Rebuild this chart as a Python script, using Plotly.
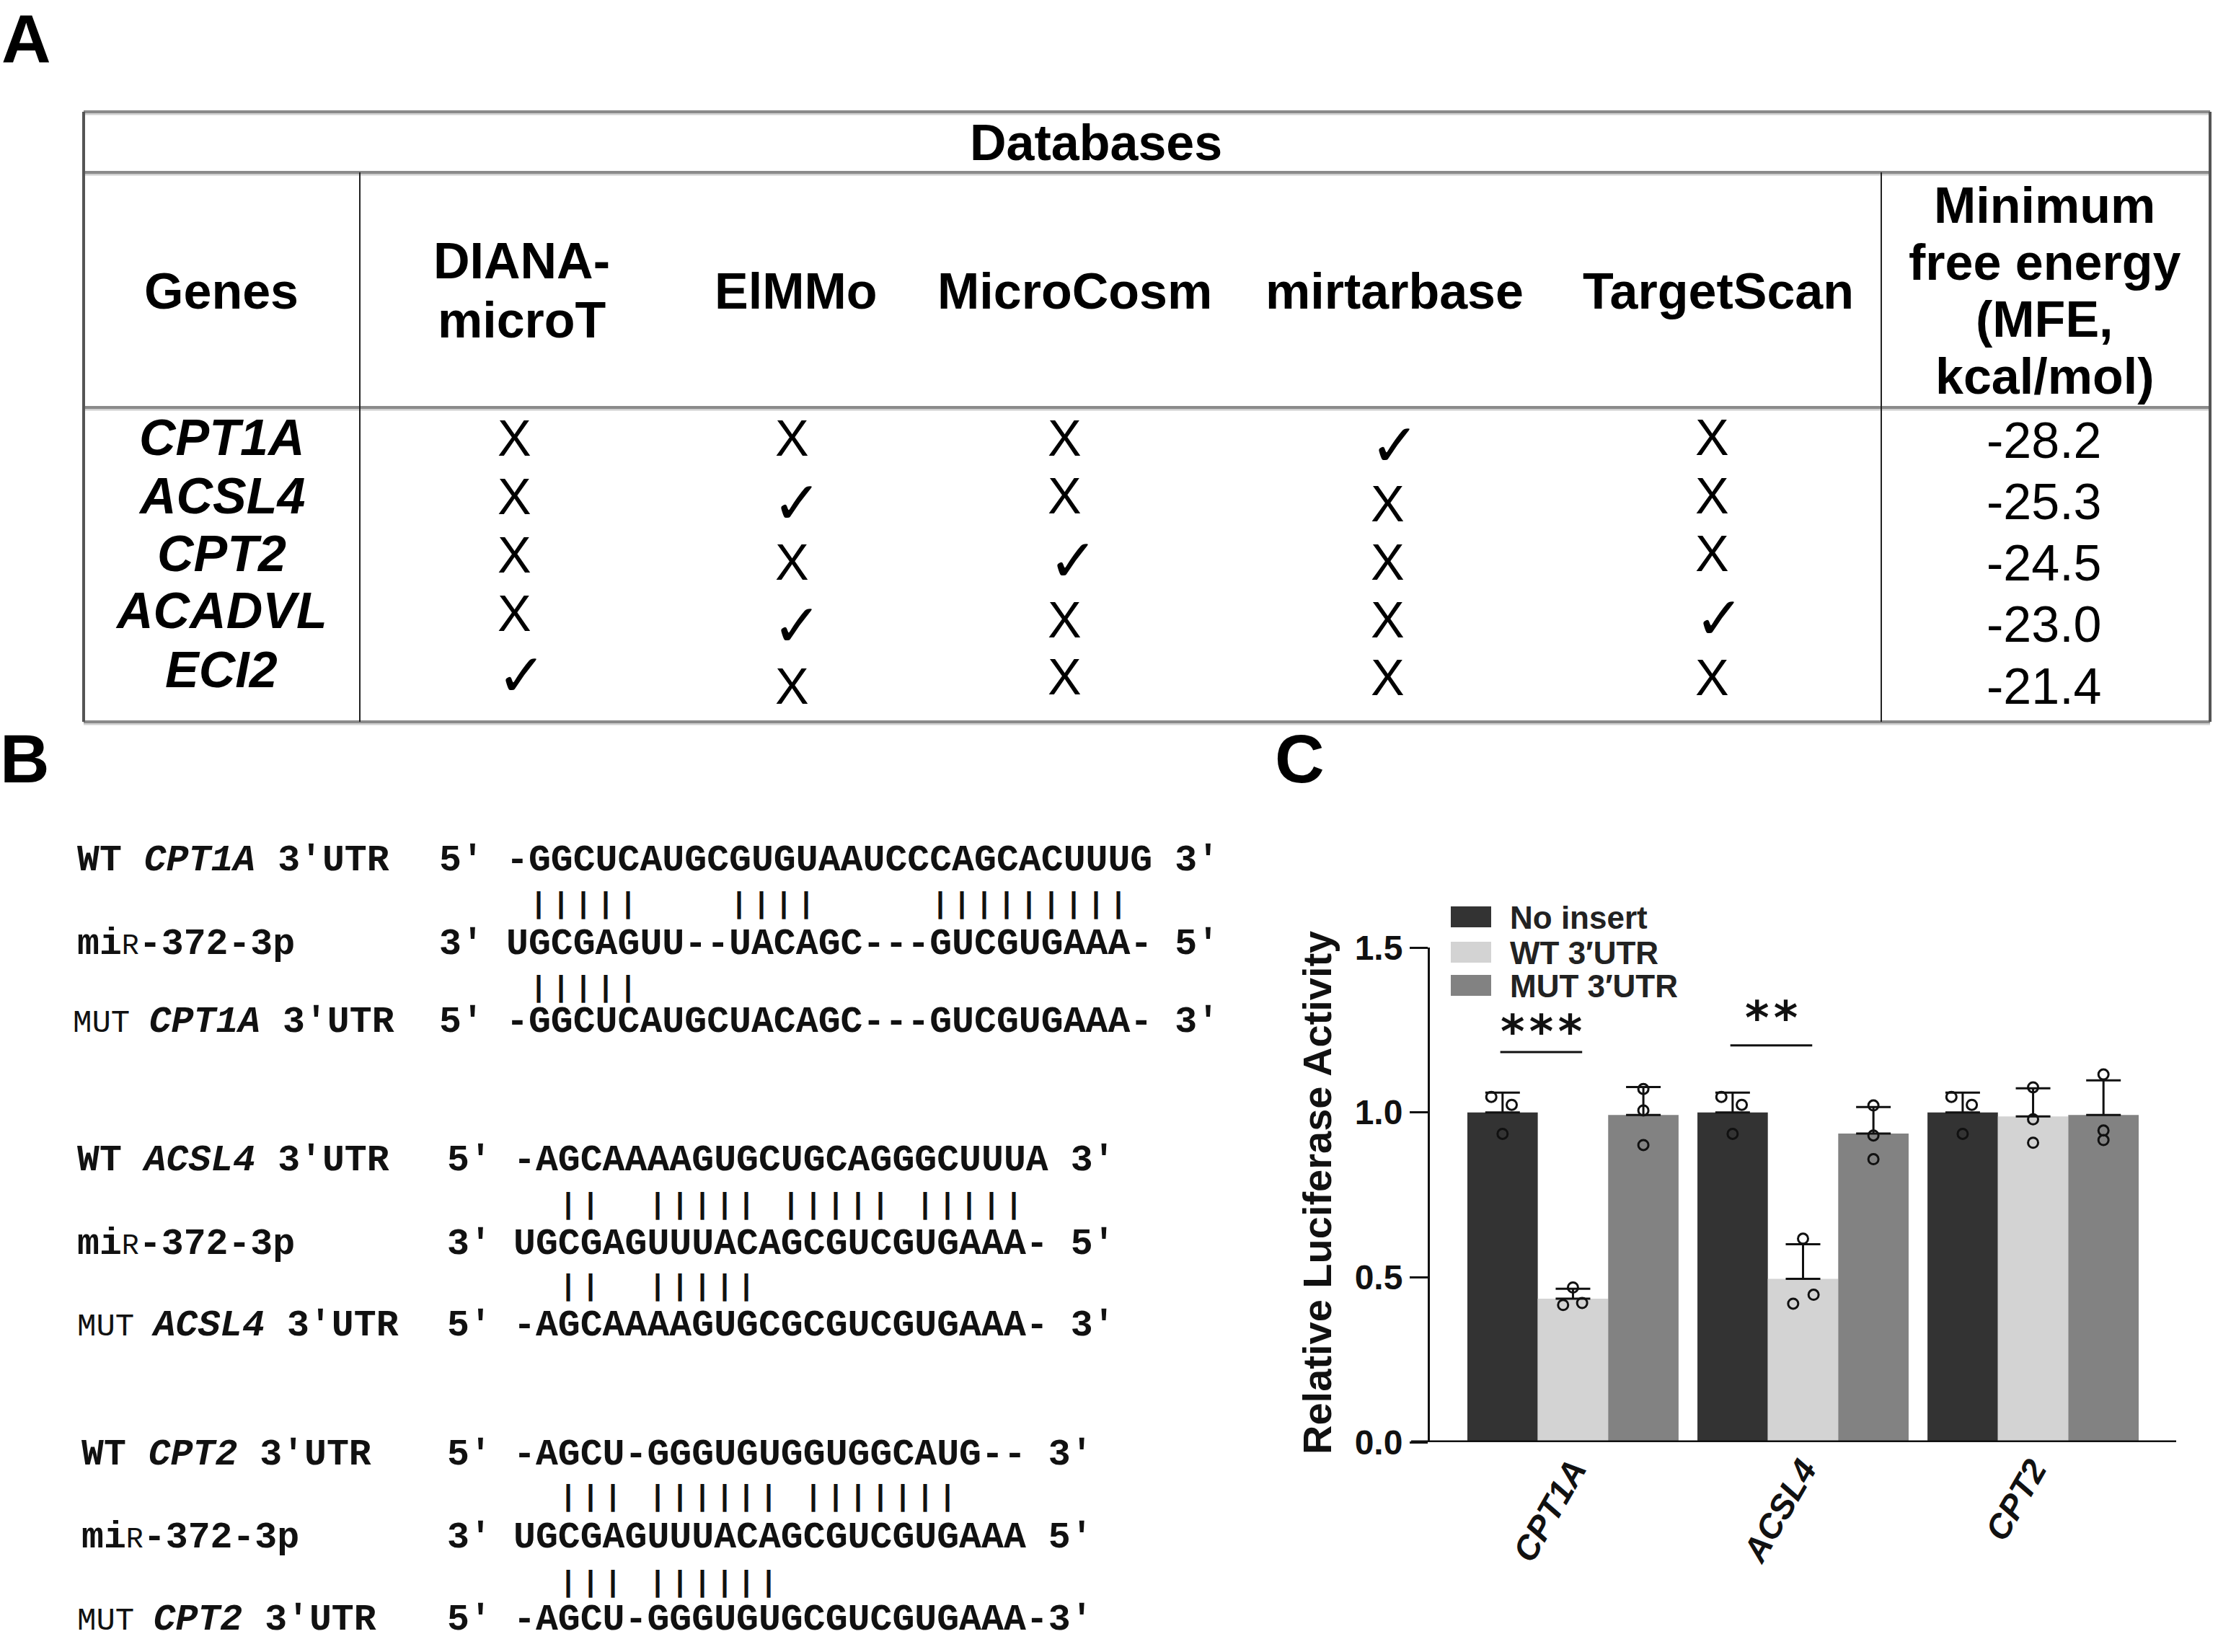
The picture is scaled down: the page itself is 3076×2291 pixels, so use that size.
import plotly.graph_objects as go

W, H = 3076, 2291

# ------------------------------------------------------------------
# DATA
# ------------------------------------------------------------------
# Panel A : prediction table
table_genes = ["CPT1A", "ACSL4", "CPT2", "ACADVL", "ECI2"]
table_databases = ["DIANA-<br>microT", "ElMMo", "MicroCosm", "mirtarbase", "TargetScan"]
predicted = [            # 1 = predicted (check mark), 0 = not predicted (X)
    [0, 0, 0, 1, 0],
    [0, 1, 0, 0, 0],
    [0, 0, 1, 0, 0],
    [0, 1, 0, 0, 1],
    [1, 0, 0, 0, 0],
]
mfe_values = [-28.2, -25.3, -24.5, -23.0, -21.4]
mfe_header = ["Minimum", "free energy", "(MFE,", "kcal/mol)"]

# Panel B : sequence alignments (label, prefix, sequence) and pairing lines
align_labels = [
    "<b>WT <i>CPT1A</i> 3′UTR</b>",
    "<b>mi</b><span style='font-size:40px'>R</span><b>-372-3p</b>",
    "<span style='font-size:44px'>MUT </span><b><i>CPT1A</i> 3′UTR</b>",
    "<b>WT <i>ACSL4</i> 3′UTR</b>",
    "<b>mi</b><span style='font-size:40px'>R</span><b>-372-3p</b>",
    "<span style='font-size:44px'>MUT </span><b><i>ACSL4</i> 3′UTR</b>",
    "<b>WT <i>CPT2</i> 3′UTR</b>",
    "<b>mi</b><span style='font-size:40px'>R</span><b>-372-3p</b>",
    "<span style='font-size:44px'>MUT </span><b><i>CPT2</i> 3′UTR</b>",
]
align_prefix = ["5'", "3′", "5'", "5'", "3′", "5'", "5'", "3′", "5'"]
align_seqs = [
    "-GGCUCAUGCGUGUAAUCCCAGCACUUUG 3'",
    "UGCGAGUU--UACAGC---GUCGUGAAA- 5'",
    "-GGCUCAUGCUACAGC---GUCGUGAAA- 3'",
    "-AGCAAAAGUGCUGCAGGGCUUUA 3'",
    "UGCGAGUUUACAGCGUCGUGAAA- 5'",
    "-AGCAAAAGUGCGCGUCGUGAAA- 3'",
    "-AGCU-GGGUGUGGUGGCAUG-- 3'",
    "UGCGAGUUUACAGCGUCGUGAAA 5'",
    "-AGCU-GGGUGUGCGUCGUGAAA-3'",
]
pair_lines = [
    " |||||    ||||     |||||||||",
    " |||||",
    "  ||  ||||| ||||| |||||",
    "  ||  |||||",
    "  ||| |||||| |||||||",
    "  ||| ||||||",
]

# Panel C : luciferase assay
bar_genes = ["CPT1A", "ACSL4", "CPT2"]
group_names = ["No insert", "WT 3′UTR", "MUT 3′UTR"]
no_insert_mean = [1.0, 1.0, 1.0]
wt_mean = [0.435, 0.495, 0.988]
mut_mean = [0.992, 0.936, 0.992]
no_insert_sd = [0.06, 0.06, 0.06]
wt_sd = [0.03, 0.105, 0.085]
mut_sd = [0.085, 0.08, 0.105]
no_insert_points = [[1.047, 1.023, 0.935], [1.047, 1.023, 0.935], [1.047, 1.023, 0.935]]
wt_points = [[0.416, 0.422, 0.469], [0.617, 0.420, 0.447], [1.076, 0.979, 0.908]]
mut_points = [[1.071, 1.006, 0.901], [1.021, 0.930, 0.858], [1.115, 0.945, 0.916]]
significance = [("***", 1.183, 1.245), ("**", 1.203, 1.285)]   # CPT1A, ACSL4 (No insert vs WT)

# ------------------------------------------------------------------
# STYLE / LAYOUT (pixel positions of the composed figure)
# ------------------------------------------------------------------
SANS = "Liberation Sans"
MONO = "Liberation Mono"
bar_colors = ["#333333", "#d3d3d3", "#828282"]
jitter = [  # horizontal jitter of replicate dots, in bar widths
    [[-0.16, 0.13, 0.0], [-0.16, 0.13, 0.0], [-0.16, 0.13, 0.0]],
    [[-0.14, 0.13, 0.0], [0.0, -0.14, 0.15], [0.0, 0.0, 0.0]],
    [[0.0, 0.0, 0.0], [0.0, 0.0, 0.0], [0.0, 0.0, 0.0]],
]

def px(x):
    return x / W

def py(y):
    return 1 - y / H

annotations = []
shapes = []

def ann(text, x, y, size, family=SANS, xanchor="center", yanchor="middle",
        color="black", angle=0):
    annotations.append(dict(
        text=text, x=px(x), y=py(y), xref="paper", yref="paper",
        showarrow=False, xanchor=xanchor, yanchor=yanchor, borderpad=0,
        font=dict(family=family, size=size, color=color), textangle=angle))

def hline(x0, x1, y, width, color):
    shapes.append(dict(type="line", xref="paper", yref="paper",
                       x0=px(x0), x1=px(x1), y0=py(y), y1=py(y),
                       line=dict(color=color, width=width)))

def vline(x, y0, y1, width, color):
    shapes.append(dict(type="line", xref="paper", yref="paper",
                       x0=px(x), x1=px(x), y0=py(y0), y1=py(y1),
                       line=dict(color=color, width=width)))

# ---------------- Panel labels ----------------
ann("<b>A</b>", 36, 54, 95)
ann("<b>B</b>", 34, 1052, 95)
ann("<b>C</b>", 1802, 1052, 95)

# ---------------- Panel A : table ----------------
T_L, T_R = 116, 3065
T_TOP, T_DB, T_HEAD, T_BOT = 155, 239, 565, 1001
DIV_GENES, DIV_MFE = 499, 2609
for yy in (T_TOP, T_DB, T_HEAD, T_BOT):
    hline(T_L, T_R, yy + 3, 3, "#d0d0d0")
    hline(T_L, T_R, yy, 4, "#8a8a8a")
vline(T_L, T_TOP, T_BOT, 4, "#555555")
vline(T_R, T_TOP, T_BOT, 4, "#555555")
vline(DIV_GENES, T_DB, T_BOT, 2, "#222222")
vline(DIV_MFE, T_DB, T_BOT, 2, "#222222")

ann("<b>Databases</b>", 1520, 198, 70)
ann("<b>Genes</b>", 307, 404, 70)
head_x = [723, 1104, 1490, 1934, 2383]
for j, name in enumerate(table_databases):
    parts = name.split("<br>")
    if len(parts) == 2:
        ann("<b>%s</b>" % parts[0], head_x[j], 362, 70)
        ann("<b>%s</b>" % parts[1], head_x[j], 444, 70)
    else:
        ann("<b>%s</b>" % name, head_x[j], 404, 70)
mfe_head_y = [285, 364, 443, 522]
for line, yy in zip(mfe_header, mfe_head_y):
    ann("<b>%s</b>" % line, 2835, yy, 70)

gene_y = [607, 688, 768, 847, 929]
for g, yy in zip(table_genes, gene_y):
    ann("<b><i>%s</i></b>" % g, 307, yy, 70)

x_pos = [713, 1098, 1476, 1925, 2374]
chk_pos = [723, 1105, 1488, 1935, 2384]
cell_y = [
    [608, 689, 770, 851, 936],
    [608, 697, 780, 868, 952],
    [608, 688, 777, 860, 939],
    [617, 699, 780, 860, 940],
    [607, 688, 768, 857, 940],
]
for i in range(len(table_genes)):
    for j in range(len(table_databases)):
        if predicted[i][j]:
            ann("<b>✓</b>", chk_pos[j], cell_y[j][i], 82, family="DejaVu Sans")
        else:
            ann("X", x_pos[j], cell_y[j][i], 70)
mfe_y = [611, 696, 781, 866, 952]
for v, yy in zip(mfe_values, mfe_y):
    ann("%.1f" % v, 2835, yy, 70)

# ---------------- Panel B : alignments ----------------
row_y = [1193, 1309, 1417, 1609, 1725, 1838, 2017, 2132, 2246]
pair_y = [1255, 1371, 1672, 1785, 2077, 2196]
label_x = [106, 106, 100, 106, 106, 106, 112, 112, 106]
block_prefix_x = [608, 619, 619]
block_seq_x = [701, 711, 711]
MONO_SIZE = 51.5
ADV = 0.6 * MONO_SIZE
for r in range(len(align_labels)):
    b = r // 3
    ann(align_labels[r], label_x[r], row_y[r], MONO_SIZE, family=MONO,
        xanchor="left", color="#111111")
    ann("<b>%s</b>" % align_prefix[r], block_prefix_x[b], row_y[r], MONO_SIZE,
        family=MONO, xanchor="left", color="#111111")
    ann("<b>%s</b>" % align_seqs[r].replace(" ", "\u00a0"), block_seq_x[b],
        row_y[r], MONO_SIZE, family=MONO, xanchor="left", color="#111111")
# pairing bars: one glyph per paired base, centred on its character cell
for k, pl in enumerate(pair_lines):
    b = k // 2
    for idx, ch in enumerate(pl):
        if ch == "|":
            ann("<b>|</b>", block_seq_x[b] + (idx + 0.5) * ADV, pair_y[k], 40,
                family=MONO, color="#111111")

# ---------------- Panel C : bar chart ----------------
BARGAP = 0.082
bw = (1 - BARGAP) / 3
xc = list(range(len(bar_genes)))
means = [no_insert_mean, wt_mean, mut_mean]
sds = [no_insert_sd, wt_sd, mut_sd]
points = [no_insert_points, wt_points, mut_points]

fig = go.Figure()
for k in range(3):
    fig.add_trace(go.Bar(
        x=xc, y=means[k], name=group_names[k], showlegend=False,
        marker=dict(color=bar_colors[k], line=dict(width=0)),
        error_y=dict(type="data", array=sds[k], arrayminus=[0] * len(xc),
                     symmetric=False, color="#111111", thickness=3, width=24),
    ))
for k in range(3):
    xs, ys = [], []
    for g in xc:
        for j, v in enumerate(points[k][g]):
            xs.append(g + (k - 1) * bw + jitter[k][g][j] * bw)
            ys.append(v)
    fig.add_trace(go.Scatter(
        x=xs, y=ys, mode="markers", showlegend=False, cliponaxis=False,
        marker=dict(symbol="circle-open", size=14, color="#111111",
                    line=dict(width=3, color="#111111")),
    ))

# significance brackets (No insert vs WT)
for g, (stars, yl, yt) in enumerate(significance):
    x_no = g - bw
    x_wt = g
    shapes.append(dict(type="line", xref="x", yref="y", x0=x_no - 0.01,
                       x1=x_wt + 0.04, y0=yl, y1=yl,
                       line=dict(color="#111111", width=3)))
    annotations.append(dict(text="<b>%s</b>" % "\u200a".join(stars),
                            x=(x_no + x_wt) / 2 + 0.015,
                            y=yt, xref="x", yref="y", showarrow=False,
                            xanchor="center", yanchor="middle", borderpad=0,
                            font=dict(family="DejaVu Sans", size=64, color="#111111")))

# x axis baseline (extends a tick-length left of the y axis)
shapes.append(dict(type="line", xref="paper", yref="y", x0=px(1957), x1=px(3018),
                   y0=0, y1=0, line=dict(color="#111111", width=5)))

# legend
leg_y = [1271.5, 1320.5, 1366.5]
for k in range(3):
    shapes.append(dict(type="rect", xref="paper", yref="paper",
                       x0=px(2012), x1=px(2068), y0=py(leg_y[k] - 14.5),
                       y1=py(leg_y[k] + 14.5), fillcolor=bar_colors[k],
                       line=dict(width=0)))
    ann("<b>%s</b>" % group_names[k], 2093, leg_y[k] + 1, 44, xanchor="left",
        color="#222222")

# y axis title
ann("<b>Relative Luciferase Activity</b>", 1826, 1654, 56, angle=-90, color="#111111")

fig.update_layout(
    width=W, height=H, margin=dict(l=0, r=0, t=0, b=0, pad=0, autoexpand=False),
    paper_bgcolor="white", plot_bgcolor="white",
    barmode="group", bargap=BARGAP, bargroupgap=0,
    showlegend=False,
    annotations=annotations, shapes=shapes,
    xaxis=dict(domain=[px(1983), px(3018)], range=[-0.622, 2.622],
               tickvals=xc, ticktext=["<b><i>%s</i></b>" % g for g in bar_genes],
               tickangle=-60, tickfont=dict(family=SANS, size=47, color="#111111"),
               showline=False, ticks="", showgrid=False, zeroline=False,
               automargin=False),
    yaxis=dict(domain=[py(2000), py(1314)], range=[0, 1.5],
               tickvals=[0, 0.5, 1.0, 1.5],
               ticktext=["<b>0.0</b>", "<b>0.5</b>", "<b>1.0</b>", "<b>1.5</b>"],
               tickfont=dict(family=SANS, size=48, color="#111111"),
               ticks="outside", ticklen=25, tickwidth=3, tickcolor="#111111",
               showline=True, linewidth=3, linecolor="#111111",
               showgrid=False, zeroline=False, automargin=False),
    font=dict(family=SANS),
)

fig.write_html(
    "out.html",
    config={"displayModeBar": False},
    post_script="document.body.style.margin='0';document.body.style.overflow='hidden';",
)
